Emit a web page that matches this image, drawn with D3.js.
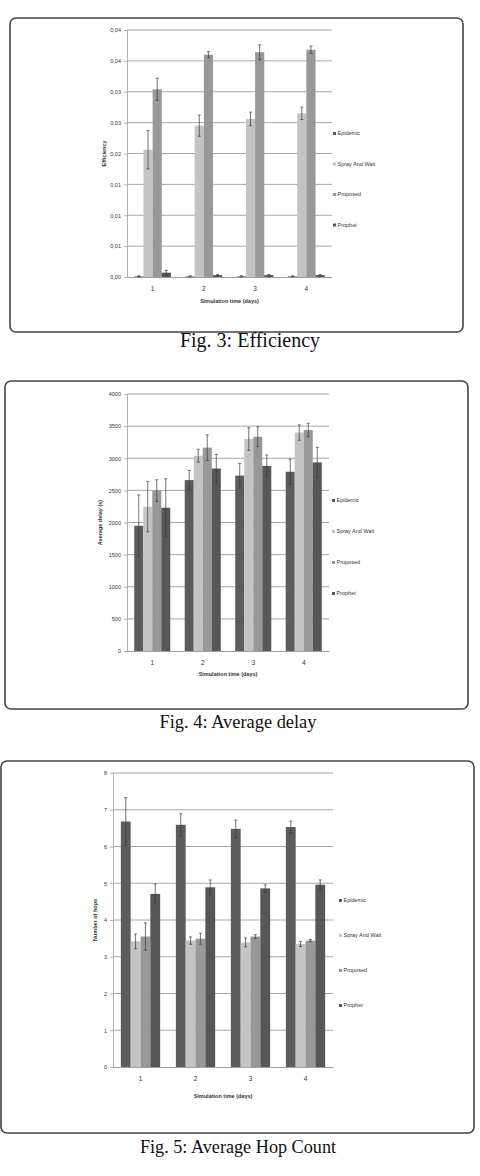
<!DOCTYPE html>
<html lang="en">
<head>
  <meta charset="UTF-8" />
  <title>Figs 3-5</title>
  <script src="https://cdn.jsdelivr.net/npm/d3@7/dist/d3.min.js"></script>
  <style>
    body {
      margin: 0;
      background: #fff;
    }
    svg text {
      font-family: "Liberation Sans", Arial, sans-serif;
      fill: #333;
    }
    svg text.caption {
      font-family: "Liberation Serif", "Times New Roman", serif;
      fill: #111;
    }
  </style>
</head>
<body>
  <div id="chart"></div>

  <script>
    // shared
    const categories = ["1", "2", "3", "4"];
    const seriesNames = ["Epidemic", "Spray And Wait", "Proposed", "Prophet"];
    const seriesColors = ["#5c5c5c", "#c4c4c4", "#989898", "#575757"];

    // Fig. 3 efficiency
    const effEpidemic = [0.0001, 0.0001, 0.0001, 0.0001];
    const effSpray = [0.0206, 0.0245, 0.0256, 0.0265];
    const effProposed = [0.0304, 0.0360, 0.0364, 0.0368];
    const effProphet = [0.0007, 0.0003, 0.0003, 0.0003];
    const effEpidemicErr = [0.0001, 0.0001, 0.0001, 0.0001];
    const effSprayErr = [0.0031, 0.0017, 0.0011, 0.0010];
    const effProposedErr = [0.0018, 0.0005, 0.0012, 0.0006];
    const effProphetErr = [0.0004, 0.0001, 0.0001, 0.0001];
    const effTicks = [0, 0.005, 0.01, 0.015, 0.02, 0.025, 0.03, 0.035, 0.04];

    // Fig. 4 average delay
    const delayEpidemic = [1950, 2660, 2730, 2790];
    const delaySpray = [2245, 3040, 3300, 3400];
    const delayProposed = [2495, 3165, 3335, 3440];
    const delayProphet = [2230, 2840, 2880, 2935];
    const delayEpidemicErr = [480, 150, 190, 195];
    const delaySprayErr = [390, 100, 175, 120];
    const delayProposedErr = [170, 200, 155, 105];
    const delayProphetErr = [450, 220, 170, 235];
    const delayTicks = [0, 500, 1000, 1500, 2000, 2500, 3000, 3500, 4000];

    // Fig. 5 hop count
    const hopEpidemic = [6.68, 6.59, 6.48, 6.53];
    const hopSpray = [3.42, 3.44, 3.39, 3.35];
    const hopProposed = [3.55, 3.49, 3.55, 3.44];
    const hopProphet = [4.71, 4.89, 4.86, 4.96];
    const hopEpidemicErr = [0.65, 0.30, 0.24, 0.16];
    const hopSprayErr = [0.20, 0.10, 0.12, 0.07];
    const hopProposedErr = [0.37, 0.15, 0.05, 0.03];
    const hopProphetErr = [0.27, 0.20, 0.10, 0.13];
    const hopTicks = [0, 1, 2, 3, 4, 5, 6, 7, 8];

    const W = 480, H = 1176;

    const svg = d3.select("#chart")
      .append("svg")
      .attr("width", W)
      .attr("height", H);

    function drawFigure(cfg) {
      const g = svg.append("g");

      // panel frame
      g.append("rect")
        .attr("x", cfg.frame[0]).attr("y", cfg.frame[1])
        .attr("width", cfg.frame[2]).attr("height", cfg.frame[3])
        .attr("rx", 6).attr("ry", 6)
        .attr("fill", "none")
        .attr("stroke", "#444")
        .attr("stroke-width", 1.6);

      const x0 = d3.scaleBand()
        .domain(categories)
        .range([cfg.left, cfg.right]);

      const x1 = d3.scaleBand()
        .domain(seriesNames)
        .range([0, x0.bandwidth()])
        .paddingOuter(0.8);

      const y = d3.scaleLinear()
        .domain([0, cfg.ticks[cfg.ticks.length - 1]])
        .range([cfg.bottom, cfg.top]);

      // gridlines
      g.append("g")
        .selectAll("line")
        .data(cfg.ticks.slice(1))
        .join("line")
        .attr("x1", cfg.left).attr("x2", cfg.right)
        .attr("y1", d => y(d)).attr("y2", d => y(d))
        .attr("stroke", "#a8a8a8")
        .attr("stroke-width", 1);

      // y axis
      const yAxis = g.append("g")
        .attr("transform", `translate(${cfg.left},0)`)
        .call(d3.axisLeft(y).tickValues(cfg.ticks).tickFormat(cfg.fmt).tickSize(3).tickPadding(3));
      yAxis.select(".domain").attr("stroke", "#b0b0b0");
      yAxis.selectAll(".tick line").attr("stroke", "#b0b0b0");
      yAxis.selectAll("text").attr("font-size", 5.5).attr("fill", "#444");

      // x axis
      const xAxis = g.append("g")
        .attr("transform", `translate(0,${cfg.bottom})`)
        .call(d3.axisBottom(x0).tickSize(0).tickPadding(9));
      xAxis.select(".domain").attr("stroke", "#a0a0a0");
      xAxis.selectAll("text").attr("font-size", 6.5).attr("fill", "#444");

      // bars
      const groups = g.append("g")
        .selectAll("g")
        .data(categories.map((c, i) => ({
          cat: c,
          items: seriesNames.map((s, k) => ({ s, k, v: cfg.values[k][i], e: cfg.errors[k][i] }))
        })))
        .join("g")
        .attr("transform", d => `translate(${x0(d.cat)},0)`);

      groups.selectAll("rect")
        .data(d => d.items)
        .join("rect")
        .attr("x", d => x1(d.s))
        .attr("y", d => y(d.v))
        .attr("width", x1.bandwidth())
        .attr("height", d => y(0) - y(d.v))
        .attr("fill", d => seriesColors[d.k]);

      // error bars
      const eb = groups.selectAll("g.err")
        .data(d => d.items)
        .join("g")
        .attr("class", "err")
        .attr("stroke", "#3a3a3a")
        .attr("stroke-width", 0.7);

      eb.append("line")
        .attr("x1", d => x1(d.s) + x1.bandwidth() / 2)
        .attr("x2", d => x1(d.s) + x1.bandwidth() / 2)
        .attr("y1", d => y(Math.max(0, d.v - d.e)))
        .attr("y2", d => y(d.v + d.e));
      eb.append("line")
        .attr("x1", d => x1(d.s) + x1.bandwidth() / 2 - 1.5)
        .attr("x2", d => x1(d.s) + x1.bandwidth() / 2 + 1.5)
        .attr("y1", d => y(d.v + d.e))
        .attr("y2", d => y(d.v + d.e));
      eb.append("line")
        .attr("x1", d => x1(d.s) + x1.bandwidth() / 2 - 1.5)
        .attr("x2", d => x1(d.s) + x1.bandwidth() / 2 + 1.5)
        .attr("y1", d => y(Math.max(0, d.v - d.e)))
        .attr("y2", d => y(Math.max(0, d.v - d.e)));

      // axis titles
      g.append("text")
        .attr("transform", `translate(${cfg.yTitleX},${(cfg.top + cfg.bottom) / 2}) rotate(-90)`)
        .attr("text-anchor", "middle")
        .attr("font-size", 5.5)
        .attr("font-weight", "bold")
        .text(cfg.yTitle);

      g.append("text")
        .attr("x", (cfg.left + cfg.right) / 2)
        .attr("y", cfg.xTitleY)
        .attr("text-anchor", "middle")
        .attr("font-size", 5.5)
        .attr("font-weight", "bold")
        .text("Simulation time (days)");

      // legend
      const lg = g.append("g")
        .selectAll("g")
        .data(seriesNames)
        .join("g")
        .attr("transform", (d, i) => `translate(${cfg.legend[0]},${cfg.legend[1] + i * cfg.legend[2]})`);
      lg.append("rect")
        .attr("x", 0).attr("y", -3)
        .attr("width", 3).attr("height", 3)
        .attr("fill", (d, i) => seriesColors[i]);
      lg.append("text")
        .attr("x", 4.5).attr("y", 0)
        .attr("font-size", 5.5)
        .text(d => d);

      // caption
      svg.append("text")
        .attr("class", "caption")
        .attr("x", cfg.caption[0])
        .attr("y", cfg.caption[1])
        .attr("text-anchor", "middle")
        .attr("font-size", cfg.caption[2])
        .text(cfg.captionText);
    }

    const comma = d3.format(".2f");

    drawFigure({
      frame: [10, 18, 453, 314],
      left: 127, right: 332, top: 30, bottom: 277,
      ticks: effTicks,
      fmt: d => comma(d).replace(".", ","),
      values: [effEpidemic, effSpray, effProposed, effProphet],
      errors: [effEpidemicErr, effSprayErr, effProposedErr, effProphetErr],
      yTitle: "Efficiency", yTitleX: 106, xTitleY: 303,
      legend: [333, 135, 30.5],
      caption: [250, 347, 20], captionText: "Fig. 3: Efficiency"
    });

    drawFigure({
      frame: [5, 381, 463, 328],
      left: 127, right: 329, top: 394, bottom: 651,
      ticks: delayTicks,
      fmt: d3.format("d"),
      values: [delayEpidemic, delaySpray, delayProposed, delayProphet],
      errors: [delayEpidemicErr, delaySprayErr, delayProposedErr, delayProphetErr],
      yTitle: "Average delay (s)", yTitleX: 102, xTitleY: 676,
      legend: [332, 502, 31],
      caption: [238, 728, 18.4], captionText: "Fig. 4: Average delay"
    });

    drawFigure({
      frame: [1, 761, 473, 372],
      left: 113, right: 333, top: 773, bottom: 1067,
      ticks: hopTicks,
      fmt: d3.format("d"),
      values: [hopEpidemic, hopSpray, hopProposed, hopProphet],
      errors: [hopEpidemicErr, hopSprayErr, hopProposedErr, hopProphetErr],
      yTitle: "Number of hops", yTitleX: 97, xTitleY: 1098,
      legend: [339, 902, 35],
      caption: [238, 1153, 18.2], captionText: "Fig. 5: Average Hop Count"
    });
  </script>
</body>
</html>
